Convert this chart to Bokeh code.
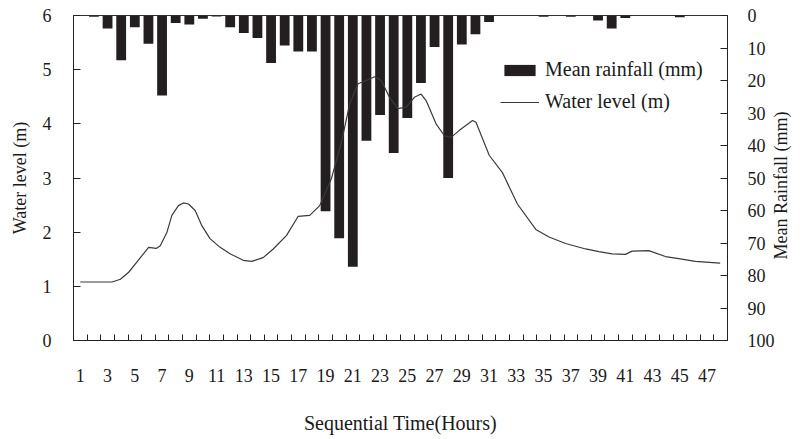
import math
from bokeh.plotting import figure
from bokeh.models import Range1d, LinearAxis, FixedTicker, Legend, LegendItem, ColumnDataSource
from bokeh.embed import file_html
from bokeh.resources import INLINE

# ---- data ----
hours = list(range(1, 49))
rainfall_mm = [0, 0.4, 4.0, 13.8, 3.6, 8.7, 24.6, 2.3, 2.8, 1.0,
               0.3, 3.6, 5.4, 6.9, 14.6, 9.2, 11.1, 11.1, 60.2, 68.5,
               77.3, 38.5, 30.6, 42.3, 31.5, 20.8, 9.7, 50.0, 8.9, 5.8,
               2.0, 0, 0, 0, 0.4, 0, 0.4, 0, 1.5, 4.0,
               0.8, 0, 0, 0, 0.5, 0, 0, 0]
level_time = [1.0, 3.33, 3.94, 4.55, 5.16, 6.01, 6.57, 6.87, 7.36, 7.72,
              8.2, 8.57, 8.94, 9.43, 9.92, 10.52, 11.26, 11.99, 12.96, 13.58,
              14.42, 15.16, 16.14, 16.98, 17.84, 18.57, 19.43, 20.2, 20.77, 21.38,
              21.99, 22.6, 23.09, 23.69, 24.3, 24.92, 25.52, 26.01, 26.38, 27.11,
              27.72, 28.21, 28.82, 29.79, 30.04, 31.01, 31.98, 33.08, 34.43, 35.4,
              36.62, 38.09, 39.06, 40.03, 41.01, 41.5, 42.72, 43.94, 44.92, 46.14,
              47.96]
water_level_m = [1.08, 1.08, 1.13, 1.26, 1.45, 1.72, 1.70, 1.75, 2.0, 2.31,
                 2.49, 2.54, 2.52, 2.40, 2.12, 1.88, 1.72, 1.60, 1.48, 1.46,
                 1.53, 1.69, 1.94, 2.29, 2.31, 2.49, 2.99, 3.7, 4.37, 4.74,
                 4.80, 4.87, 4.80, 4.49, 4.28, 4.31, 4.49, 4.55, 4.43, 4.0,
                 3.78, 3.75, 3.88, 4.06, 4.03, 3.42, 3.1, 2.52, 2.05, 1.91,
                 1.79, 1.69, 1.64, 1.60, 1.59, 1.65, 1.66, 1.55, 1.51, 1.46,
                 1.43]
x_tick_labels = list(range(1, 48, 2))
left_ticks = [0, 1, 2, 3, 4, 5, 6]
right_ticks = list(range(0, 101, 10))

FONT = "Liberation Serif"
TXT = "#1a1a1a"

p = figure(width=803, height=439, x_range=Range1d(0.5, 48.5), y_range=Range1d(0, 6),
           output_backend="svg", toolbar_location=None,
           min_border_left=73, min_border_right=74, min_border_top=15, min_border_bottom=99)
p.extra_y_ranges = {"rain": Range1d(100, 0)}
p.grid.visible = False
p.outline_line_color = "#333333"
p.outline_line_width = 1
p.background_fill_color = "white"
p.border_fill_color = "white"

rain_src = ColumnDataSource(dict(x=hours, rain=rainfall_mm))
bars = p.vbar(x="x", top="rain", bottom=0, width=0.72, source=rain_src,
              y_range_name="rain", fill_color="#231f20", line_color=None)
lvl_src = ColumnDataSource(dict(t=level_time, lv=water_level_m))
ln = p.line(x="t", y="lv", source=lvl_src, line_color="#3a3a3a", line_width=1.2)

# x axis
xa = p.xaxis[0]
xa.ticker = FixedTicker(ticks=x_tick_labels, minor_ticks=[h + 0.5 for h in range(1, 48)])
xa.major_tick_in = 0
xa.major_tick_out = 0
xa.minor_tick_in = 6
xa.minor_tick_out = 0
xa.minor_tick_line_color = "#222222"
xa.axis_label = "Sequential Time(Hours)"
xa.major_label_standoff = 28
xa.axis_label_standoff = 27

# left axis
ya = p.yaxis[0]
ya.ticker = FixedTicker(ticks=left_ticks)
ya.major_tick_in = 7
ya.major_tick_out = 0
ya.minor_tick_in = 0
ya.minor_tick_out = 0
ya.axis_label = "Water level (m)"
ya.major_label_standoff = 22
ya.axis_label_standoff = 10

# right axis; title reads bottom-to-top and is anchored at the axis foot,
# padded with no-break spaces so it sits at mid-height
ra = LinearAxis(y_range_name="rain", ticker=FixedTicker(ticks=right_ticks),
                axis_label="\u00a0" * 18 + "Mean Rainfall (mm)")
ra.major_tick_in = 7
ra.major_tick_out = 0
ra.minor_tick_in = 0
ra.minor_tick_out = 0
ra.major_label_standoff = 20
ra.axis_label_standoff = 3
p.add_layout(ra, "right")

for ax in [xa, ya, ra]:
    ax.axis_line_color = "#222222"
    ax.axis_line_width = 1
    ax.major_tick_line_color = "#222222"
    ax.major_label_text_font = FONT
    ax.major_label_text_font_size = "18px"
    ax.major_label_text_color = TXT
    ax.axis_label_text_font = FONT
    ax.axis_label_text_font_size = "18px"
    ax.axis_label_text_font_style = "normal"
    ax.axis_label_text_color = TXT
xa.axis_label_text_font_size = "20px"

ra.axis_label_orientation = math.pi / 2
ra.axis_label_align = "end"

legend = Legend(items=[LegendItem(label="Mean rainfall (mm)", renderers=[bars]),
                       LegendItem(label="Water level (m)", renderers=[ln])],
                location=(427, 227))
legend.label_text_font = FONT
legend.label_text_font_size = "20px"
legend.label_text_color = TXT
legend.background_fill_alpha = 0
legend.border_line_alpha = 0
legend.glyph_width = 39
legend.glyph_height = 14
legend.spacing = 9
legend.padding = 0
legend.margin = 0
legend.label_standoff = 6
p.add_layout(legend, "center")

open("out.html", "w").write(file_html(p, INLINE))
